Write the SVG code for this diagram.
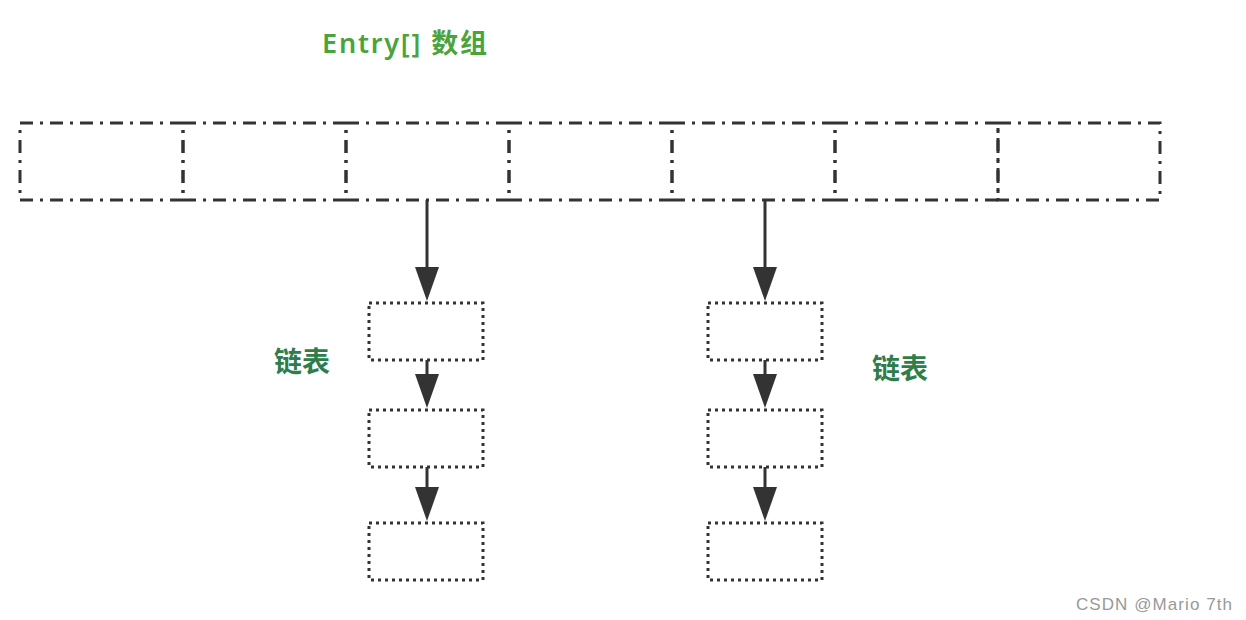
<svg xmlns="http://www.w3.org/2000/svg" width="1246" height="620" viewBox="0 0 1246 620">
<defs>
<style>
.cell{fill:none;stroke:#333;stroke-width:3;stroke-dasharray:13 7 3 7}
.node{fill:none;stroke:#333;stroke-width:3;stroke-dasharray:3 4}
.conn{stroke:#333;stroke-width:3;fill:none}
.head{fill:#333}
.lbl{font-family:"Noto Sans","Noto Sans CJK SC",sans-serif;font-weight:600}
</style>
</defs>
<rect width="1246" height="620" fill="#fff"/>
<text class="lbl" x="322" y="53" font-size="27" fill="#4aa43e" textLength="165" lengthAdjust="spacing">Entry[] 数组</text>
<g id="array">
<rect class="cell" x="20" y="123" width="163" height="77"/>
<rect class="cell" x="183" y="123" width="163" height="77"/>
<rect class="cell" x="346" y="123" width="163" height="77"/>
<rect class="cell" x="509" y="123" width="163" height="77"/>
<rect class="cell" x="672" y="123" width="163" height="77"/>
<rect class="cell" x="835" y="123" width="163" height="77"/>
<rect class="cell" x="998" y="123" width="162" height="77"/>
</g>
<g id="list1">
<rect id="n1a" class="node" x="369" y="303" width="114" height="57"/>
<rect id="n1b" class="node" x="369" y="410" width="114" height="57"/>
<rect id="n1c" class="node" x="369" y="523" width="114" height="57"/>
</g>
<g id="list2">
<rect id="n2a" class="node" x="708" y="303" width="114" height="57"/>
<rect id="n2b" class="node" x="708" y="410" width="114" height="57"/>
<rect id="n2c" class="node" x="708" y="523" width="114" height="57"/>
</g>
<g id="connectors">
<line class="conn" x1="427" y1="200" x2="427" y2="272"/>
<path class="head" d="M415 267 L439 267 L427 301 Z"/>
<line class="conn" x1="427" y1="360" x2="427" y2="378"/>
<path class="head" d="M415 374 L439 374 L427 408 Z"/>
<line class="conn" x1="427" y1="467" x2="427" y2="490"/>
<path class="head" d="M415 487 L439 487 L427 521 Z"/>
<line class="conn" x1="765" y1="200" x2="765" y2="272"/>
<path class="head" d="M753 267 L777 267 L765 301 Z"/>
<line class="conn" x1="765" y1="360" x2="765" y2="378"/>
<path class="head" d="M753 374 L777 374 L765 408 Z"/>
<line class="conn" x1="765" y1="467" x2="765" y2="490"/>
<path class="head" d="M753 487 L777 487 L765 521 Z"/>
</g>
<text class="lbl" x="274" y="372" font-size="28" fill="#2e7d4a">链表</text>
<text class="lbl" x="872" y="379" font-size="28" fill="#2e7d4a">链表</text>
<text x="1076" y="610" font-size="17" fill="#999" font-family="'Liberation Sans',Arial,sans-serif" textLength="156" lengthAdjust="spacing">CSDN @Mario 7th</text>
</svg>
